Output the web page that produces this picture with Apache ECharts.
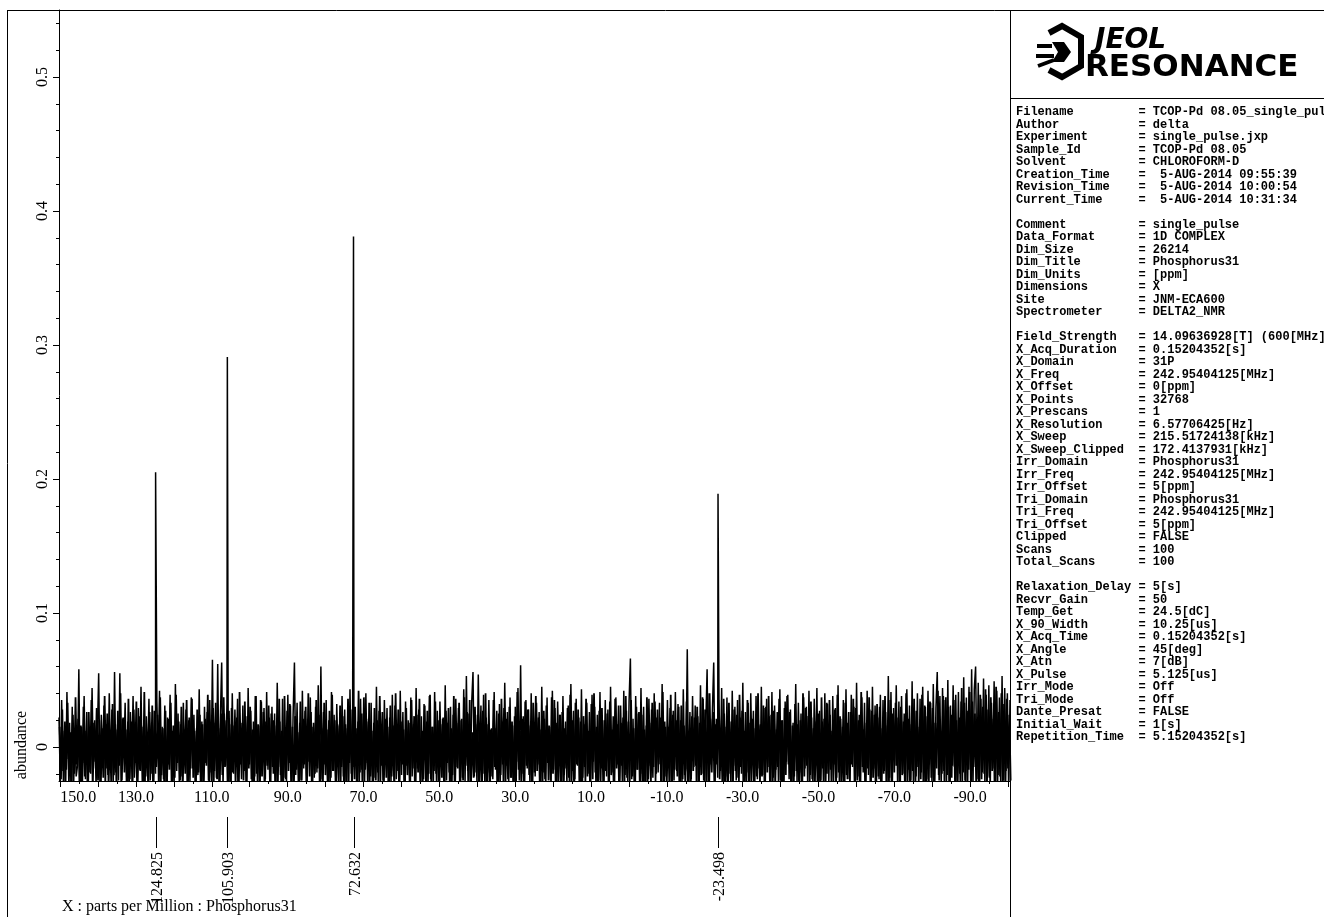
<!DOCTYPE html>
<html><head><meta charset="utf-8">
<script src="https://cdn.jsdelivr.net/npm/echarts/dist/echarts.min.js"></script>
<style>html,body{margin:0;padding:0;background:#fff}#c{width:1324px;height:917px}</style>
</head><body><div id="c"></div>
<script>
// ---------- data ----------
const peakPpm = [124.825, 105.903, 72.632, -23.498];
const peakHeight = [0.205, 0.291, 0.381, 0.189];
const xRange = [150.3, -100.5];           // left -> right (ppm)
const yRange = [-0.0254, 0.55];
const xTickLabels = [150, 130, 110, 90, 70, 50, 30, 10, -10, -30, -50, -70, -90];
const yTickLabels = [0, 0.1, 0.2, 0.3, 0.4, 0.5];
const NOISE_UNIT = 0.001;                 // noise values below are in thousandths of abundance
// baseline noise, sampled on a regular ppm grid (A: grid points, B: half-way between them)
const noiseMilliA = [
22,-28,35,-18,12,-33,41,-9,18,-26, 30,-31,8,-22,-14,58,-30,15,-12,38, -24,26,-35,11,-20,44,-16,20,-29,9, 55,-27,24,-11,31,-34,17,-21,40,-15,
28,-30,56,-19,13,-25,55,-32,21,-8, 33,-28,19,-36,26,-14,38,-23,10,-31, 29,-17,45,-27,16,-33,23,-12,36,-25, 18,-30,27,-20,34,-9,42,-29,15,-24,
31,-35,22,-13,39,-26,12,-31,47,-18, 25,-29,17,-22,33,-11,28,-34,20,-27, 37,-16,24,-30,14,-21,43,-28,19,-33, 30,-12,26,-25,35,-19,65,-31,18,-23,
62,-27,21,63,-30,25,-14,33,-26,17, -32,40,-20,28,-11,36,-29,15,-24,31, -18,23,-35,44,-13,27,-30,19,-22,38, -26,16,-31,34,-9,29,-24,41,-17,22,
-33,30,-20,25,-28,48,-15,19,-32,36, -23,14,-27,39,-12,31,-29,24,63,-21, 33,-30,18,-25,42,-16,27,-34,21,-11, 37,-28,15,-23,30,-19,46,-31,60,-24,
26,-13,35,-29,20,-33,41,-18,24,-27, 32,-10,17,-31,38,-22,28,-26,14,-35, 43,-20,23,-15,30,-28,19,-32,36,-17, 25,-29,40,-12,21,-26,33,-34,18,-23,
45,-19,27,-30,16,-25,35,-11,29,-33, 22,-27,39,-18,31,-24,13,-30,42,-21, 26,-35,34,-14,20,-28,37,-22,17,-31, 44,-16,28,-26,23,-33,32,-9,19,-29,
38,-24,15,-30,41,-20,27,-27,34,-13, 21,-32,46,-25,18,-19,30,-34,24,-28, 36,-15,29,-31,20,-23,43,-27,53,-18, 25,-30,33,56,-22,17,-28,54,-12,31,
-26,39,-33,22,-19,35,-29,14,-24,41, -17,27,-35,32,-21,19,-30,48,-14,26, -28,37,-23,16,-32,30,-11,44,-25,61, -20,23,-31,35,-16,28,-27,40,-34,18,
-22,33,-13,26,-29,45,-19,21,-33,37, -25,15,-30,42,-17,29,-26,34,-12,24, -31,38,-21,19,-28,31,-35,47,-18,27, -24,36,-14,22,-30,43,-23,17,-32,33,
-20,26,-27,39,-11,30,-33,24,-25,41, -16,20,-29,35,-22,28,-34,45,-19,23, -30,37,-13,31,-26,18,-31,42,-21,27, -28,34,66,-24,21,-33,38,-17,25,-29,
44,-20,30,-27,16,-32,36,-14,28,-23, 40,-31,22,-19,33,-26,47,-35,19,-22, 35,-12,29,-30,24,-25,41,-18,32,-33, 20,-27,43,-21,-16,73,-30,26,-24,38,
-15,31,-34,23,-28,46,-20,36,-26,17, 58,-31,40,-13,27,63,-29,21,-23,34, -18,44,-32,25,-22,37,-27,19,-30,42, -14,30,-25,35,-33,22,-20,48,-28,26,
-19,33,-31,40,-12,27,-29,38,-24,16, -34,45,-21,29,-26,36,-15,23,-32,41, -23,31,-17,26,-30,43,-28,20,-35,34, -11,39,-24,28,-31,18,-22,47,-27,33,
-19,25,-33,37,-16,30,-26,42,-21,22, -29,36,-14,44,-32,27,-25,19,-30,40, -20,32,-27,24,-34,38,-13,29,-23,46, -28,21,-18,35,-31,43,-24,26,-33,39,
-15,30,-26,48,-22,24,-30,37,-19,33, -35,42,-21,28,-27,45,-16,31,-29,22, -24,39,-32,35,-18,26,-28,53,-23,41, -30,29,-14,46,-26,34,-33,38,-20,25,
-29,43,-17,31,-25,49,-31,27,-22,40, -34,36,-19,45,-28,30,-24,42,-13,33, -27,47,-32,29,56,-21,38,-30,44,-18, 35,-26,50,-33,31,-23,46,-15,39,-29,
41,-20,34,-31,52,-25,37,-28,45,-17, 58,-30,43,60,-24,48,-32,36,-19,51, -27,39,-22,46,-34,33,-16,49,-29,42, -21,37,-30,53,-25,44,-18,40,-33,35
];
const noiseMilliB = [
15,-24,28,-31,19,-17,33,-26,11,-35, 24,-20,37,-13,21,-29,16,-34,30,-22, 12,-27,26,-19,35,-32,18,-11,29,-25, 20,-36,14,-23,38,-16,25,-30,10,-28,
32,-21,17,-33,27,-14,40,-25,22,-19, 13,-31,36,-24,19,-37,28,-12,34,-27, 23,-18,15,-30,41,-22,11,-35,26,-20, 31,-29,18,-15,24,-33,37,-21,14,-26,
27,-38,21,-17,33,-28,16,-23,39,-12, 19,-25,30,-34,13,-20,35,-29,22,-16, 36,-23,12,-31,28,-19,24,-36,17,-27, 21,-14,39,-26,15,-32,29,-18,33,-24,
14,-33,25,-21,37,-15,20,-30,27,-38, 29,-19,16,-28,22,-35,41,-13,18,-25, 34,-27,23,-16,30,-24,13,-32,38,-20, 17,-30,35,-22,26,-37,19,-14,31,-28,
25,-15,20,-33,16,-26,36,-21,12,-34, 38,-24,27,-18,32,-29,15,-36,23,-17, 11,-31,34,-25,21,-13,30,-27,40,-22, 26,-37,18,-20,35,-16,24,-33,14,-29,
33,-21,13,-34,27,-23,39,-18,20,-31, 16,-26,31,-15,23,-35,17,-28,36,-12, 28,-33,22,-24,14,-30,42,-19,25,-36, 37,-17,19,-29,33,-22,12,-31,29,-25,
20,-28,38,-14,26,-36,21,-23,15,-33, 31,-22,16,-35,40,-18,28,-27,19,-13, 13,-34,29,-21,18,-31,35,-16,23,-38, 24,-19,36,-27,12,-24,31,-33,27,-20,
39,-30,15,-18,34,-26,20,-37,17,-23, 22,-35,27,-12,29,-32,14,-21,38,-28, 18,-16,33,-30,21,-25,37,-14,26,-34, 35,-27,11,-23,30,-19,24,-36,16,-29,
27,-20,40,-33,17,-28,13,-22,35,-15, 14,-37,25,-26,36,-13,29,-31,21,-24, 30,-23,19,-35,23,-30,41,-17,12,-27, 21,-32,34,-14,28,-21,16,-38,33,-19,
38,-18,22,-29,13,-34,27,-24,31,-12, 16,-25,37,-20,35,-27,18,-33,24,-30, 26,-36,14,-16,29,-23,39,-28,20,-35, 33,-13,28,-31,19,-37,23,-15,36,-22,
12,-29,32,-24,40,-19,15,-32,27,-26, 29,-34,20,-18,25,-28,34,-21,13,-37, 36,-16,17,-33,31,-14,22,-30,38,-23, 19,-27,35,-22,14,-35,30,-17,26,-31,
24,-38,13,-29,37,-24,18,-26,33,-15, 34,-20,28,-13,22,-33,41,-29,15,-28, 15,-31,39,-36,27,-17,20,-22,30,-34, 31,-24,16,-27,34,-30,12,-35,23,-18,
22,-14,30,-32,18,-21,37,-25,28,-37, 40,-33,21,-19,26,-29,17,-13,35,-24, 13,-26,36,-30,15,-36,33,-20,19,-32, 28,-18,24,-23,39,-15,27,-34,12,-27,
35,-35,18,-28,21,-31,14,-22,40,-16, 17,-22,31,-37,30,-19,38,-27,24,-33, 27,-29,13,-15,36,-25,20,-36,29,-21, 38,-13,26,-34,16,-30,32,-18,17,-28,
20,-37,40,-22,29,-14,23,-31,34,-24, 14,-27,19,-30,25,-35,37,-16,21,-36, 33,-20,35,-17,12,-26,28,-29,39,-19, 23,-32,15,-38,33,-21,18,-24,26,-13,
36,-28,29,-25,20,-33,41,-15,13,-30, 18,-16,37,-31,27,-23,24,-37,32,-22, 30,-35,14,-20,38,-29,16,-26,35,-34, 25,-19,33,-14,22,-36,30,-21,19,-27,
40,-30,21,-33,17,-18,36,-28,27,-15, 15,-24,39,-27,31,-32,23,-35,34,-23, 29,-37,18,-16,42,-25,12,-20,38,-31, 37,-21,30,-36,24,-14,35,-33,20,-26,
22,-28,44,-19,33,-30,27,-17,41,-35, 34,-15,25,-32,19,-26,39,-24,30,-20, 43,-34,28,-23,37,-18,21,-37,45,-29, 26,-22,40,-30,32,-35,36,-16,24,-25
];
const params = [
 ['Filename', 'TCOP-Pd 08.05_single_pulse'],
 ['Author', 'delta'],
 ['Experiment', 'single_pulse.jxp'],
 ['Sample_Id', 'TCOP-Pd 08.05'],
 ['Solvent', 'CHLOROFORM-D'],
 ['Creation_Time', ' 5-AUG-2014 09:55:39'],
 ['Revision_Time', ' 5-AUG-2014 10:00:54'],
 ['Current_Time', ' 5-AUG-2014 10:31:34'],
 null,
 ['Comment', 'single_pulse'],
 ['Data_Format', '1D COMPLEX'],
 ['Dim_Size', '26214'],
 ['Dim_Title', 'Phosphorus31'],
 ['Dim_Units', '[ppm]'],
 ['Dimensions', 'X'],
 ['Site', 'JNM-ECA600'],
 ['Spectrometer', 'DELTA2_NMR'],
 null,
 ['Field_Strength', '14.09636928[T] (600[MHz])'],
 ['X_Acq_Duration', '0.15204352[s]'],
 ['X_Domain', '31P'],
 ['X_Freq', '242.95404125[MHz]'],
 ['X_Offset', '0[ppm]'],
 ['X_Points', '32768'],
 ['X_Prescans', '1'],
 ['X_Resolution', '6.57706425[Hz]'],
 ['X_Sweep', '215.51724138[kHz]'],
 ['X_Sweep_Clipped', '172.4137931[kHz]'],
 ['Irr_Domain', 'Phosphorus31'],
 ['Irr_Freq', '242.95404125[MHz]'],
 ['Irr_Offset', '5[ppm]'],
 ['Tri_Domain', 'Phosphorus31'],
 ['Tri_Freq', '242.95404125[MHz]'],
 ['Tri_Offset', '5[ppm]'],
 ['Clipped', 'FALSE'],
 ['Scans', '100'],
 ['Total_Scans', '100'],
 null,
 ['Relaxation_Delay', '5[s]'],
 ['Recvr_Gain', '50'],
 ['Temp_Get', '24.5[dC]'],
 ['X_90_Width', '10.25[us]'],
 ['X_Acq_Time', '0.15204352[s]'],
 ['X_Angle', '45[deg]'],
 ['X_Atn', '7[dB]'],
 ['X_Pulse', '5.125[us]'],
 ['Irr_Mode', 'Off'],
 ['Tri_Mode', 'Off'],
 ['Dante_Presat', 'FALSE'],
 ['Initial_Wait', '1[s]'],
 ['Repetition_Time', '5.15204352[s]']
];

// ---------- build ----------
const N = noiseMilliA.length;
const step = (xRange[0] - xRange[1]) / (N - 1);
const ptsA = noiseMilliA.map((v, i) => [xRange[0] - i * step, v * NOISE_UNIT]);
peakPpm.forEach((p, k) => ptsA.push([p, peakHeight[k]]));
ptsA.sort((a, b) => b[0] - a[0]);
const ptsB = noiseMilliB.map((v, i) => [xRange[0] - (i + 0.5) * step, v * NOISE_UNIT]);

const xMajor = [], xMinor = [];
for (let v = 150; v >= -100; v -= 5) { (v % 10 === 0 ? xMajor : xMinor).push(v); }
const yMinor = [];
for (let k = -1; k <= 27; k++) { if (k % 5 !== 0) yMinor.push(+(k * 0.02).toFixed(2)); }

const serif = '"Liberation Serif", "Times New Roman", serif';
const paramText = params.map(p => p ? p[0].padEnd(16) + ' = ' + p[1] : '').join('\n');

const chart = echarts.init(document.getElementById('c'), null, {renderer: 'canvas'});
const axisLineStyle = {color: '#000', width: 1};
const lineSeries = (data, w) => ({type: 'line', xAxisIndex: 0, yAxisIndex: 0, data: data, showSymbol: false,
  symbol: 'none', sampling: false, clip: true, silent: true, lineStyle: {color: '#000', width: w}});
chart.setOption({
  animation: false,
  backgroundColor: '#fff',
  grid: {left: 59, right: 314, top: 10, bottom: 136, containLabel: false},
  xAxis: [
    {type: 'value', min: xRange[1], max: xRange[0], inverse: true, position: 'bottom',
     axisLine: {show: true, lineStyle: axisLineStyle, onZero: false},
     axisTick: {show: true, customValues: xMajor, length: 6, lineStyle: axisLineStyle},
     axisLabel: {show: true, customValues: xTickLabels, formatter: v => (+v).toFixed(1),
       fontFamily: serif, fontSize: 16, color: '#000', margin: 9, alignMinLabel: 'left'},
     splitLine: {show: false}},
    {type: 'value', min: xRange[1], max: xRange[0], inverse: true, position: 'bottom',
     axisLine: {show: false, onZero: false},
     axisTick: {show: true, customValues: xMinor, length: 3, lineStyle: axisLineStyle},
     axisLabel: {show: false}, splitLine: {show: false}}
  ],
  yAxis: [
    {type: 'value', min: yRange[0], max: yRange[1], position: 'left',
     axisLine: {show: true, lineStyle: axisLineStyle, onZero: false},
     axisTick: {show: true, customValues: yTickLabels, length: 6, lineStyle: axisLineStyle},
     axisLabel: {show: true, customValues: yTickLabels, rotate: 90, fontFamily: serif, fontSize: 16, color: '#000', margin: 8},
     splitLine: {show: false}},
    {type: 'value', min: yRange[0], max: yRange[1], position: 'left',
     axisLine: {show: false, onZero: false},
     axisTick: {show: true, customValues: yMinor, length: 3, lineStyle: axisLineStyle},
     axisLabel: {show: false}, splitLine: {show: false}}
  ],
  series: [
    lineSeries(ptsB, 1.8),
    lineSeries(ptsA, 1.5),
    {type: 'custom', xAxisIndex: 0, yAxisIndex: 0, clip: false, silent: true,
     data: peakPpm.map(p => [p, yRange[0]]),
     renderItem: function (params, api) {
       const pt = api.coord([api.value(0), api.value(1)]);
       const x = Math.round(pt[0]) + 0.5, yb = pt[1];
       return {type: 'group', children: [
         {type: 'line', shape: {x1: x, y1: yb + 36, x2: x, y2: yb + 67},
          style: {stroke: '#000', lineWidth: 1}},
         {type: 'text', x: x + 1, y: yb + 71, rotation: Math.PI / 2,
          style: {text: peakPpm[params.dataIndex].toFixed(3), fill: '#000',
                  font: '16px ' + serif, align: 'right', verticalAlign: 'middle'}}
       ]};
     }}
  ],
  graphic: [
    // frame
    {type: 'line', shape: {x1: 7.5, y1: 10, x2: 7.5, y2: 917}, style: {stroke: '#000', lineWidth: 1}},
    {type: 'line', shape: {x1: 7, y1: 10.5, x2: 1324, y2: 10.5}, style: {stroke: '#000', lineWidth: 1}},
    {type: 'line', shape: {x1: 1010.5, y1: 10, x2: 1010.5, y2: 917}, style: {stroke: '#000', lineWidth: 1}},
    {type: 'line', shape: {x1: 1010, y1: 98.5, x2: 1324, y2: 98.5}, style: {stroke: '#000', lineWidth: 1}},
    // axis titles
    {type: 'text', x: 22, y: 745, rotation: Math.PI / 2,
     style: {text: 'abundance', font: '16px ' + serif, fill: '#000', align: 'center', verticalAlign: 'middle'}},
    {type: 'text', x: 62, y: 907,
     style: {text: 'X : parts per Million : Phosphorus31', font: '16px ' + serif, fill: '#000', align: 'left', verticalAlign: 'middle'}},
    // logo
    {type: 'polyline', shape: {points: [[1049, 33], [1062, 26], [1081, 37], [1081, 66], [1062, 77], [1049, 70]]},
     style: {stroke: '#000', lineWidth: 6, fill: null, lineJoin: 'miter'}},
    {type: 'polygon', shape: {points: [[1052, 42], [1064, 42], [1071, 52], [1064, 62], [1052, 62], [1058, 52]]},
     style: {fill: '#000'}},
    {type: 'polyline', shape: {points: [[1037, 46], [1052, 46]]}, style: {stroke: '#000', lineWidth: 4}},
    {type: 'polyline', shape: {points: [[1036, 56], [1054, 56]]}, style: {stroke: '#000', lineWidth: 4}},
    {type: 'polyline', shape: {points: [[1038, 66], [1054, 60]]}, style: {stroke: '#000', lineWidth: 4}},
    {type: 'text', x: 1095, y: 41,
     style: {text: 'JEOL', font: 'italic bold 28px "DejaVu Sans", sans-serif', fill: '#000', align: 'left', verticalAlign: 'middle'}},
    {type: 'text', x: 1085, y: 68,
     style: {text: 'RESONANCE', font: 'bold 31px "DejaVu Sans", sans-serif', fill: '#000', align: 'left', verticalAlign: 'middle'}},
    // parameters
    {type: 'text', x: 1016, y: 106,
     style: {text: paramText, font: 'bold 12px "Liberation Mono", "Courier New", monospace', fill: '#000',
             align: 'left', verticalAlign: 'top', lineHeight: 12.5}}
  ]
});
</script>
</body></html>
